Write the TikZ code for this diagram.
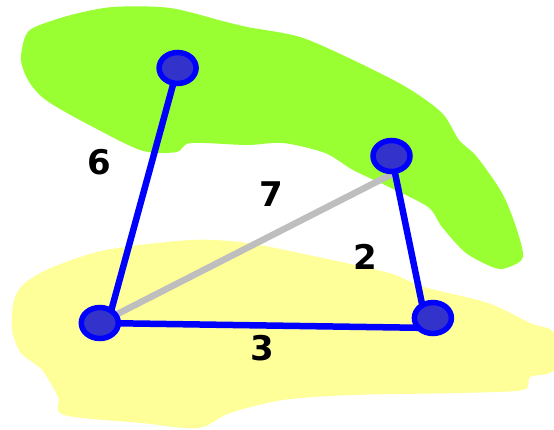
\documentclass[tikz,border=0pt]{standalone}
\usepackage{fontspec}
\setmainfont{DejaVu Sans}
\usetikzlibrary{shapes.geometric,backgrounds}
\definecolor{blobgreen}{RGB}{153,255,51}
\definecolor{blobyellow}{RGB}{255,255,153}
\definecolor{nodefill}{RGB}{51,51,204}
\definecolor{edgegray}{RGB}{190,190,190}
\pgfdeclarelayer{blobs}
\pgfsetlayers{blobs,background,main}
\tikzset{
  vert/.style={ellipse, draw=blue, fill=nodefill, line width=5.5pt, minimum width=37pt, minimum height=31pt, inner sep=0pt},
  blueedge/.style={draw=blue, line width=6.5pt},
  grayedge/.style={draw=edgegray, line width=6.5pt},
  lbl/.style={font=\fontsize{34}{34}\selectfont\bfseries, inner sep=0pt}
}
\begin{document}
\begin{tikzpicture}[x=1pt,y=-1pt]
\useasboundingbox (0,0) rectangle (554,430);
\begin{pgfonlayer}{blobs}
% green blob
\fill[blobgreen] plot[smooth cycle, tension=0.5] coordinates {
(21,60) (25,37) (35,27) (71,15) (113,7) (170,8) (226,22) (247,27) (300,37)
(353,60) (406,87) (442,113) (459,140) (477,157) (502,193) (516,227) (523,257)
(509,267) (495,268) (466,253) (442,227) (428,207) (389,187) (353,170) (325,153)
(283,143) (247,145) (191,143) (177,152) (148,152) (124,143) (67,113) (42,97) (28,80)};
% yellow blob
\fill[blobyellow] plot[smooth cycle, tension=0.5] coordinates {
(25,283) (53,267) (106,250) (191,240) (247,243) (318,257) (389,273) (424,287)
(488,303) (530,323) (554,333) (554,370) (530,377) (523,390) (459,393) (353,395)
(283,400) (230,413) (198,428) (141,423) (64,415) (58,397) (42,370) (21,353)
(12,330) (14,300)};
\end{pgfonlayer}
% nodes
\node[vert] (a) at (177.6,68) {};
\node[vert] (c) at (391.5,156) {};
\node[vert] (b) at (99.8,323) {};
\node[vert] (d) at (432.9,318) {};
% edges
\begin{pgfonlayer}{background}
\path[blueedge] (a.center) -- ([xshift=8pt]b.center);
\path[grayedge] (b.center) -- (c.south);
\path[blueedge] (c.center) -- ([xshift=-8pt]d.center);
\path[blueedge] (b.center) -- ([yshift=-10pt]d.center);
\end{pgfonlayer}
% labels
\node[lbl] (l6) at (99,162) {6};
\node[lbl] (l7) at (271,194) {7};
\node[lbl] (l2) at (365,257) {2};
\node[lbl] (l3) at (262,348) {3};
\end{tikzpicture}
\end{document}
